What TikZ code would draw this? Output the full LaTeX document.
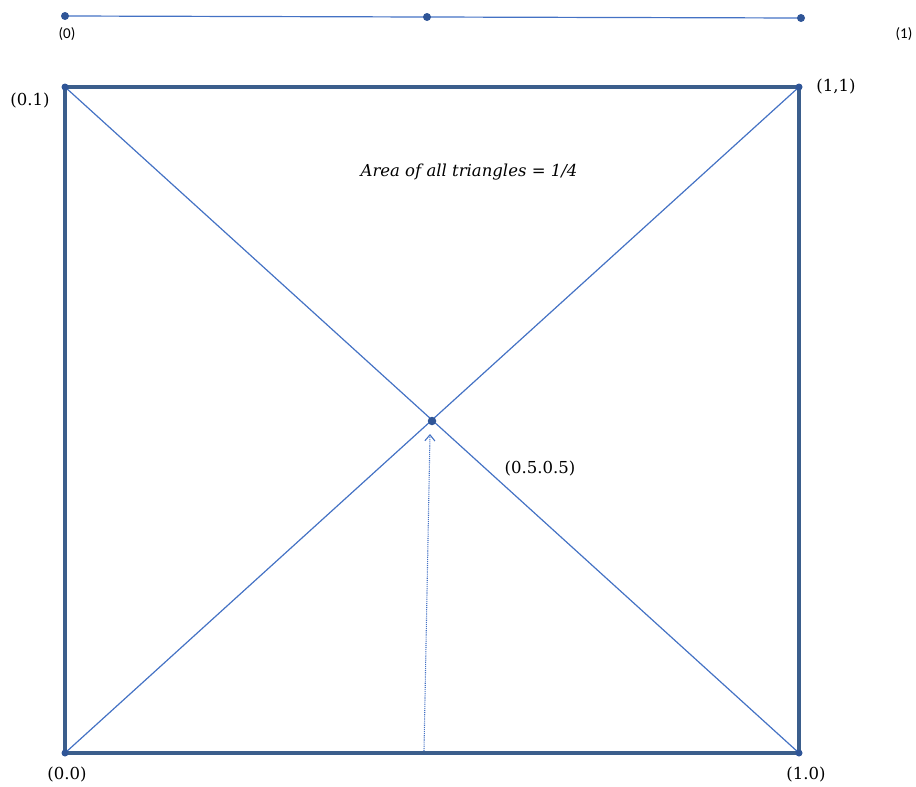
\documentclass[tikz,border=0pt]{standalone}
\usepackage{fontspec}
\setmainfont{DejaVu Serif}
\newfontfamily\smallsans{Carlito}
\usetikzlibrary{arrows.meta}
\definecolor{thickc}{HTML}{3B5E8C}
\definecolor{thinc}{HTML}{4472C4}
\definecolor{dotc}{HTML}{2F5597}
\begin{document}
\begin{tikzpicture}[x=1pt,y=-1pt,
  thinline/.style={draw=thinc,line width=1.2pt},
  thickline/.style={draw=thickc,line width=3.5pt,line join=miter},
  pt/.style={circle,fill=dotc,inner sep=0pt,minimum size=8pt},
  lbl/.style={font=\fontsize{16.5}{18}\selectfont,inner sep=0pt},
  slbl/.style={font=\smallsans\fontsize{15}{17}\selectfont,inner sep=0pt}]
\useasboundingbox (0,0) rectangle (916,787);
% top line
\coordinate (t0) at (65,16);
\coordinate (tm) at (427,17);
\coordinate (t1) at (801,18);
\draw[thinline] (t0) -- (tm) -- (t1);
\node[pt] (d0) at (t0) {};
\node[pt] (dm) at (tm) {};
\node[pt] (d1) at (t1) {};
\node[slbl] (l0) at (67,34) {(0)};
\node[slbl] (l1) at (904,34) {(1)};
% square
\coordinate (A) at (65,87);
\coordinate (B) at (799,87);
\coordinate (C) at (799,753);
\coordinate (D) at (65,753);
\coordinate (M) at (432,421);
\draw[thinline] (A) -- (C);
\draw[thinline] (B) -- (D);
\draw[thickline] (A) -- (B) -- (C) -- (D) -- cycle;
\node[pt,minimum size=7pt] (pA) at (A) {};
\node[pt,minimum size=7pt] (pB) at (B) {};
\node[pt,minimum size=7pt] (pC) at (C) {};
\node[pt,minimum size=7pt] (pD) at (D) {};
\node[pt,minimum size=8.5pt] (pM) at (M) {};
% dotted arrow
\coordinate (S) at (424,751);
\draw[draw=thinc,line width=1.1pt,densely dotted,-{Straight Barb[length=6pt,width=10pt,line width=1.1pt]}] (S) -- (430,434);
% labels
\node[lbl] (nA) at (30,101) {(0.1)};
\node[lbl] (nB) at (836,87) {(1,1)};
\node[lbl] (nD) at (67,775) {(0.0)};
\node[lbl] (nC) at (806,775) {(1.0)};
\node[lbl] (nM) at (540,469) {(0.5.0.5)};
\node[lbl,font=\itshape\fontsize{16.5}{18}\selectfont] (area) at (469,172) {Area of all triangles = 1/4};
\end{tikzpicture}
\end{document}
